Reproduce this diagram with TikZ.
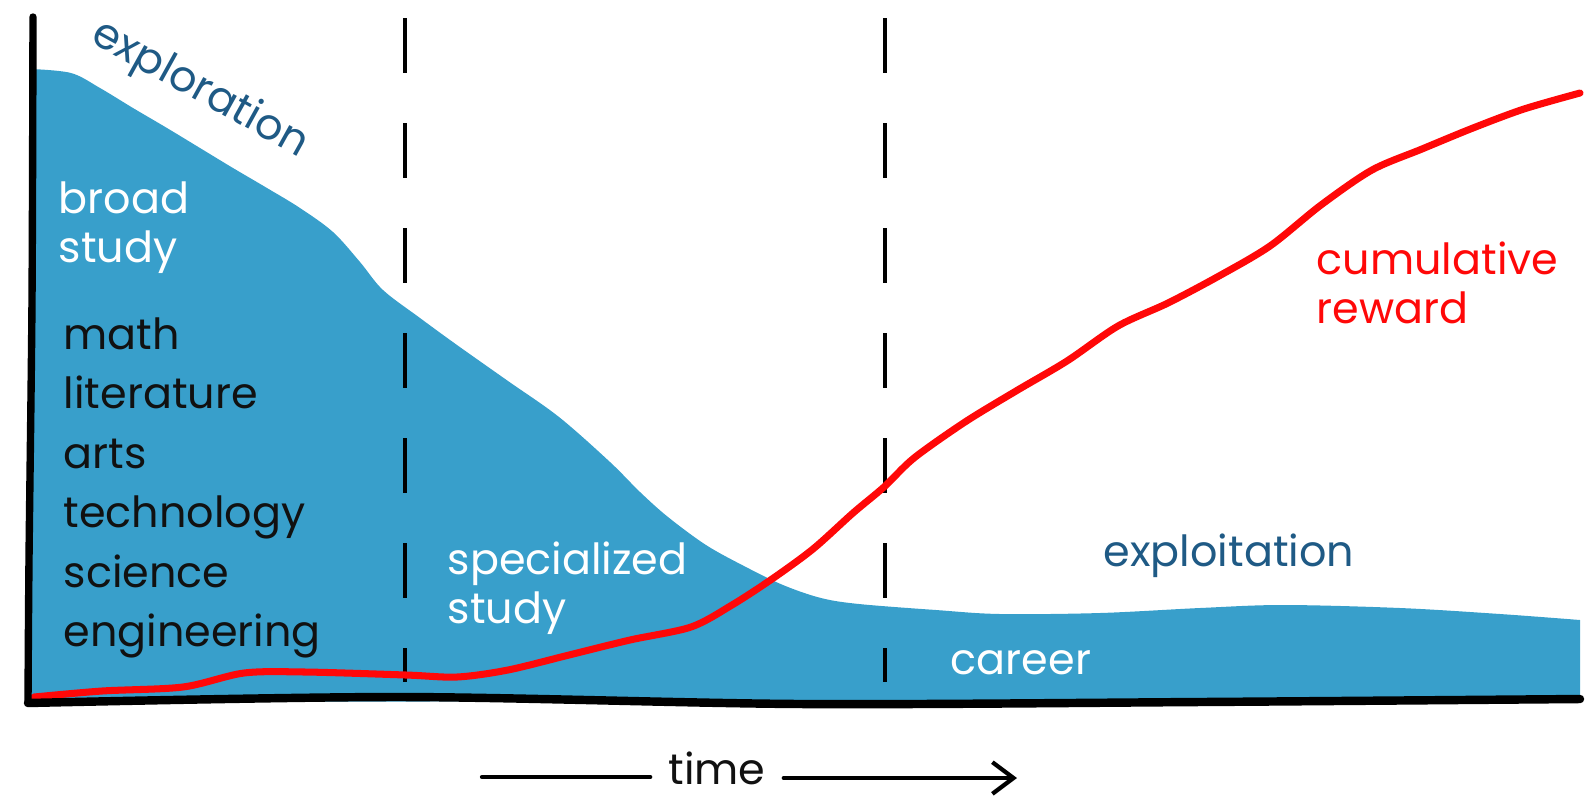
\documentclass[tikz,border=0pt]{standalone}
\usepackage{fontspec}
\setmainfont{Poppins}
\usetikzlibrary{arrows.meta}

\definecolor{areablue}{HTML}{389FCB}
\definecolor{inkblue}{HTML}{1F5A85}
\definecolor{inkred}{HTML}{FF0808}
\definecolor{inkblack}{HTML}{111111}

\begin{document}
\begin{tikzpicture}[x=0.01cm,y=-0.01cm,
  lbl/.style={font=\fontsize{12.2}{14}\selectfont,inner sep=0pt},
  two/.style={lbl,align=left,anchor=north west},
  axis/.style={line width=2.1pt,line cap=round,line join=round},
  phase/.style={line width=1.2pt,dash pattern=on 0.55cm off 0.5cm},
  reward/.style={line width=2pt,inkred,line cap=round}]

\useasboundingbox (0,0) rectangle (1593,796);

% exploration area
\fill[areablue] plot[smooth,tension=0.55] coordinates {
  (31,69) (71,73) (100,88) (133,108) (167,128) (200,148) (233,168)
  (267,188) (300,208) (333,232) (360,262) (383,290) (420,318) (457,345)
  (508,381) (559,417) (610,462) (640,492) (668,517) (706,545) (744,566)
  (783,585) (821,598) (859,604) (936,610) (1000,614) (1100,613)
  (1200,608) (1283,605) (1400,608) (1500,614) (1580,620)}
  -- (1580,700) -- (30,702) -- cycle;

% phase boundaries
\draw[phase] (405,18) -- (405,682);
\draw[phase] (885,18) -- (885,682);

% cumulative reward
\draw[reward] plot[smooth,tension=0.5] coordinates {
  (34,697) (102,691) (183,687) (244,673) (305,672) (406,675) (457,677)
  (508,670) (569,655) (630,640) (691,627) (732,605) (772,579) (813,549)
  (853,513) (884,487) (914,458) (965,422) (1016,391) (1067,361)
  (1118,326) (1168,303) (1219,276) (1270,246) (1321,205) (1372,170)
  (1422,149) (1473,128) (1524,109) (1580,93)};

% axes
\draw[axis] plot[smooth] coordinates {(33,17) (32,300) (29,560) (28,703)};
\draw[axis,line width=2.4pt] plot[smooth] coordinates {
  (28,703) (400,697) (800,704) (1200,702) (1580,699)};

% labels
\node[lbl,inkblue,rotate=-29] (explore) at (200,90) {exploration};
\node[two,white] (broad) at (58,181) {broad\\study};
\node[two,inkblack,font=\fontsize{12.2}{16.9}\selectfont] (fields) at (63,317)
  {math\\literature\\arts\\technology\\science\\engineering};
\node[two,white] (special) at (447,541) {specialized\\study};
\node[lbl,inkblue] (exploit) at (1229,556) {exploitation};
\node[lbl,white] (career) at (1021,663) {career};
\node[two,inkred] (cumul) at (1316,241) {cumulative\\reward};

% time axis
\node[lbl,inkblack,inner xsep=5pt] (time) at (717,768) {time};
\coordinate (tfrom) at (482,777);
\coordinate (tto) at (1017,778);
\draw[line width=1.2pt,line cap=round] (tfrom) -- (tfrom -| time.west);
\draw[line width=1.2pt,line cap=round,
  -{Straight Barb[length=6pt,width=9pt,line width=1.2pt]}] (time.east |- tto) -- (tto);
\end{tikzpicture}
\end{document}
